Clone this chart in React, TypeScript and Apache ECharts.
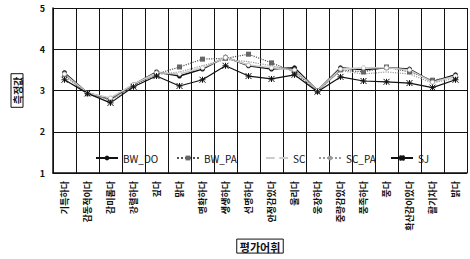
import React, { useEffect, useRef } from "react";
import * as echarts from "echarts";

const categories = [
  "기특하다", "감동적이다", "감미롭다", "강렬하다", "깊다", "맑다",
  "명확하다", "생생하다", "선명하다", "안정감있다", "울리다", "웅장하다",
  "중량감있다", "풍족하다", "풍다", "확산감이있다", "활기차다", "밝다",
];
const yTicks = [1, 2, 3, 4, 5];
const bwDo = [3.43, 2.94, 2.8, 3.14, 3.45, 3.35, 3.52, 3.81, 3.6, 3.52, 3.55, 3.0, 3.55, 3.5, 3.55, 3.52, 3.21, 3.38];
const bwPa = [3.38, 2.92, 2.78, 3.12, 3.4, 3.57, 3.76, 3.78, 3.88, 3.67, 3.45, 2.98, 3.5, 3.45, 3.57, 3.45, 3.25, 3.33];
const sc = [3.4, 2.94, 2.82, 3.15, 3.43, 3.4, 3.55, 3.8, 3.62, 3.55, 3.5, 3.0, 3.52, 3.55, 3.55, 3.5, 3.2, 3.35];
const scPa = [3.35, 2.93, 2.76, 3.1, 3.38, 3.45, 3.6, 3.75, 3.7, 3.6, 3.48, 2.99, 3.48, 3.4, 3.45, 3.4, 3.18, 3.3];
const sj = [3.26, 2.93, 2.7, 3.09, 3.35, 3.11, 3.26, 3.6, 3.35, 3.28, 3.38, 2.97, 3.33, 3.23, 3.21, 3.18, 3.07, 3.26];

const star = "path://M0,0L10,10M10,0L0,10M5,0L5,10M0,5L10,5";
const font = "'Noto Sans CJK KR', 'Noto Sans', sans-serif";

export default function App() {
  const ref = useRef<HTMLDivElement>(null);
  useEffect(() => {
    document.body.style.margin = "0";
    if (!ref.current) return;
    const chart = echarts.init(ref.current, null, { renderer: "svg" });
    const legendBase = {
      top: 153,
      itemWidth: 22,
      itemHeight: 6,
      itemGap: 4,
      textStyle: { fontSize: 10, color: "#111", fontFamily: font },
      padding: 0,
    };
    chart.setOption({
      animation: false,
      backgroundColor: "#fff",
      grid: { left: 53, right: 3, top: 8, bottom: 86 },
      legend: [
        { ...legendBase, left: 95, data: ["BW_DO"] },
        { ...legendBase, left: 176, data: ["BW_PA"] },
        { ...legendBase, left: 265, data: ["SC"] },
        { ...legendBase, left: 318, data: ["SC_PA"] },
        { ...legendBase, left: 390, data: ["SJ"] },
      ],
      xAxis: {
        type: "category",
        data: categories,
        boundaryGap: true,
        name: "평가어휘",
        nameLocation: "middle",
        nameGap: 62,
        nameTextStyle: {
          fontSize: 11,
          fontWeight: "bold",
          color: "#111",
          fontFamily: font,
          borderColor: "#111",
          borderWidth: 1,
          padding: [2, 3, 1, 3],
        },
        axisLine: { lineStyle: { color: "#111", width: 1.5 } },
        axisTick: { lineStyle: { color: "#111" }, length: 3, interval: 0 },
        axisLabel: {
          rotate: 90,
          interval: 0,
          fontSize: 9,
          fontWeight: "bold",
          color: "#111",
          fontFamily: font,
          margin: 8,
        },
        splitLine: { show: true, interval: 0, lineStyle: { color: "#111", width: 1 } },
      },
      yAxis: {
        type: "value",
        min: 1,
        max: 5,
        interval: 1,
        name: "측정값",
        nameLocation: "middle",
        nameRotate: 90,
        nameGap: 30,
        nameTextStyle: {
          fontSize: 10,
          fontWeight: "bold",
          color: "#111",
          fontFamily: font,
          borderColor: "#111",
          borderWidth: 1,
          padding: [1, 3, 1, 3],
        },
        axisLine: { show: true, lineStyle: { color: "#111", width: 1.5 } },
        axisTick: { show: false },
        axisLabel: {
          fontSize: 9,
          fontWeight: "bold",
          color: "#111",
          fontFamily: font,
          margin: 8,
          formatter: (v: number) => (yTicks.includes(v) ? String(v) : ""),
        },
        splitLine: { show: true, lineStyle: { color: "#111", width: 1 } },
      },
      series: [
        {
          name: "BW_DO",
          type: "line",
          data: bwDo,
          symbol: "circle",
          symbolSize: 5,
          itemStyle: { color: "#111" },
          lineStyle: { color: "#111", width: 1.5 },
        },
        {
          name: "BW_PA",
          type: "line",
          data: bwPa,
          symbol: "rect",
          symbolSize: 5,
          itemStyle: { color: "#666" },
          lineStyle: { color: "#555", width: 1.2, type: "dotted" },
        },
        {
          name: "SC",
          type: "line",
          data: sc,
          symbol: "circle",
          symbolSize: 4,
          itemStyle: { color: "#fff", borderColor: "#bbb" },
          lineStyle: { color: "#ccc", width: 1.5 },
        },
        {
          name: "SC_PA",
          type: "line",
          data: scPa,
          symbol: "none",
          itemStyle: { color: "#999" },
          lineStyle: { color: "#999", width: 1.2, type: "dotted" },
        },
        {
          name: "SJ",
          type: "line",
          data: sj,
          symbol: star,
          symbolSize: 6,
          itemStyle: { color: "#111", borderColor: "#111", borderWidth: 1 },
          lineStyle: { color: "#111", width: 1.2 },
        },
      ],
    });
    return () => chart.dispose();
  }, []);
  return <div ref={ref} style={{ width: 470, height: 259 }} />;
}
